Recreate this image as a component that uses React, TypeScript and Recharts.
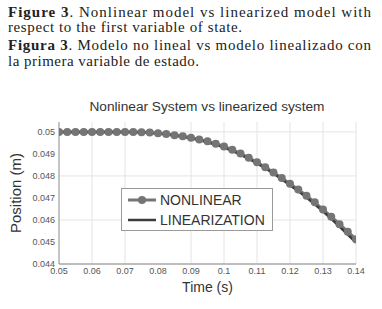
import React from 'react';
import { LineChart, Line, XAxis, YAxis, CartesianGrid, Label } from 'recharts';

const times = [0.05, 0.0525, 0.055, 0.0575, 0.06, 0.0625, 0.065, 0.0675, 0.07, 0.0725, 0.075, 0.0775, 0.08, 0.0825, 0.085, 0.0875, 0.09, 0.0925, 0.095, 0.0975, 0.1, 0.1025, 0.105, 0.1075, 0.11, 0.1125, 0.115, 0.1175, 0.12, 0.1225, 0.125, 0.1275, 0.13, 0.1325, 0.135, 0.1375, 0.14];
const nonlinear = [0.05, 0.05, 0.05, 0.05, 0.05, 0.05, 0.05, 0.05, 0.05, 0.05, 0.04999, 0.04997, 0.04994, 0.0499, 0.04985, 0.0498, 0.04974, 0.04966, 0.04957, 0.04946, 0.04934, 0.04919, 0.04902, 0.04883, 0.04862, 0.0484, 0.04816, 0.04791, 0.04765, 0.04738, 0.0471, 0.0468, 0.04648, 0.04615, 0.04581, 0.04547, 0.04512];
const linearization = [0.05, 0.05, 0.05, 0.05, 0.05, 0.05, 0.05, 0.05, 0.05, 0.05, 0.04999, 0.04996, 0.04993, 0.04989, 0.04984, 0.04978, 0.04971, 0.04963, 0.04953, 0.04942, 0.04929, 0.04914, 0.04897, 0.04878, 0.04857, 0.04835, 0.04811, 0.04785, 0.04758, 0.04731, 0.04702, 0.04671, 0.04639, 0.04605, 0.0457, 0.04534, 0.04497];
const xTicks = [0.05, 0.06, 0.07, 0.08, 0.09, 0.1, 0.11, 0.12, 0.13, 0.14];
const yTicks = [0.044, 0.045, 0.046, 0.047, 0.048, 0.049, 0.05];
const seriesNames = ['NONLINEAR', 'LINEARIZATION'];

const data = times.map((t, i) => ({ t, nonlinear: nonlinear[i], linearization: linearization[i] }));

const NL_COLOR = '#757575';
const LIN_COLOR = '#3c3c3c';
const SANS = 'Liberation Sans, Arial, sans-serif';
const SERIF = '"Liberation Serif", "Times New Roman", serif';

const LegendBox = () => (
  <div style={{ position: 'absolute', left: 121, top: 188, width: 150, height: 41, border: '1px solid #9a9a9a', background: '#fff', fontFamily: SANS, fontSize: 14, color: '#333' }}>
    <div style={{ display: 'flex', alignItems: 'center', height: 20, marginTop: 1 }}>
      <svg width={38} height={12} style={{ marginLeft: 6 }}>
        <line x1={0} y1={6} x2={28} y2={6} stroke={NL_COLOR} strokeWidth={3} />
        <circle cx={14} cy={6} r={4} fill={NL_COLOR} />
      </svg>
      <span style={{ marginLeft: -6 }}>{seriesNames[0]}</span>
    </div>
    <div style={{ display: 'flex', alignItems: 'center', height: 20 }}>
      <svg width={38} height={12} style={{ marginLeft: 6 }}>
        <line x1={0} y1={6} x2={28} y2={6} stroke={LIN_COLOR} strokeWidth={2.5} />
      </svg>
      <span style={{ marginLeft: -6 }}>{seriesNames[1]}</span>
    </div>
  </div>
);

const Caption = () => (
  <svg width={382} height={80} style={{ position: 'absolute', left: 0, top: 0 }}>
    <g fontFamily={SERIF} fontSize={15} fill="#222">
      <text x={8} y={17} textLength={363} lengthAdjust="spacing"><tspan fontWeight="bold">Figure 3</tspan>. Nonlinear model vs linearized model with</text>
      <text x={8} y={32} textLength={234} lengthAdjust="spacing">respect to the first variable of state.</text>
      <text x={8} y={50} textLength={363} lengthAdjust="spacing"><tspan fontWeight="bold">Figura 3</tspan>. Modelo no lineal vs modelo linealizado con</text>
      <text x={8} y={66} textLength={191} lengthAdjust="spacing">la primera variable de estado.</text>
    </g>
  </svg>
);

export default function App() {
  return (
    <div style={{ position: 'absolute', left: 0, top: 0, width: 382, height: 309, background: '#fff', overflow: 'hidden' }}>
      <Caption />
      <div style={{ position: 'absolute', left: 0, top: 0 }}>
        <LineChart width={382} height={309} data={data} margin={{ top: 122, right: 26, bottom: 15, left: 9 }}>
          <text x={207} y={111} textAnchor="middle" fontFamily={SANS} fontSize={13.7} fill="#333">Nonlinear System vs linearized system</text>
          <CartesianGrid stroke="#e4e4e4" strokeWidth={1} horizontalValues={yTicks} verticalValues={xTicks} />
          <XAxis dataKey="t" type="number" domain={[0.05, 0.14]} ticks={xTicks} allowDataOverflow height={30}
            tickLine={false} tickSize={3} tickMargin={1} axisLine={{ stroke: '#8a8a8a' }}
            tick={{ fontSize: 9, fill: '#555', fontFamily: SANS }}>
            <Label value="Time (s)" position="insideBottom" offset={2} fontSize={14} fill="#333" fontFamily={SANS} />
          </XAxis>
          <XAxis xAxisId="top" orientation="top" dataKey="t" type="number" domain={[0.05, 0.14]} ticks={xTicks} height={0}
            tick={false} tickLine={false} axisLine={{ stroke: '#8a8a8a' }} />
          <YAxis type="number" domain={[0.044, 0.05045]} ticks={yTicks} allowDataOverflow width={50}
            tickLine={false} tickSize={3} tickMargin={1} axisLine={{ stroke: '#8a8a8a' }}
            tick={{ fontSize: 9, fill: '#555', fontFamily: SANS }}>
            <Label value="Position (m)" angle={-90} position="insideLeft" offset={7} fontSize={15} fill="#333" fontFamily={SANS} style={{ textAnchor: 'middle' }} />
          </YAxis>
          <YAxis yAxisId="right" orientation="right" type="number" domain={[0.044, 0.05045]} ticks={yTicks} width={0}
            tick={false} tickLine={false} axisLine={{ stroke: '#8a8a8a' }} />
          <Line dataKey="nonlinear" name={seriesNames[0]} stroke={NL_COLOR} strokeWidth={3} dot={{ r: 4, fill: NL_COLOR, stroke: 'none' }} isAnimationActive={false} />
          <Line dataKey="linearization" name={seriesNames[1]} stroke={LIN_COLOR} strokeWidth={2.5} dot={false} isAnimationActive={false} />
        </LineChart>
      </div>
      <LegendBox />
    </div>
  );
}
